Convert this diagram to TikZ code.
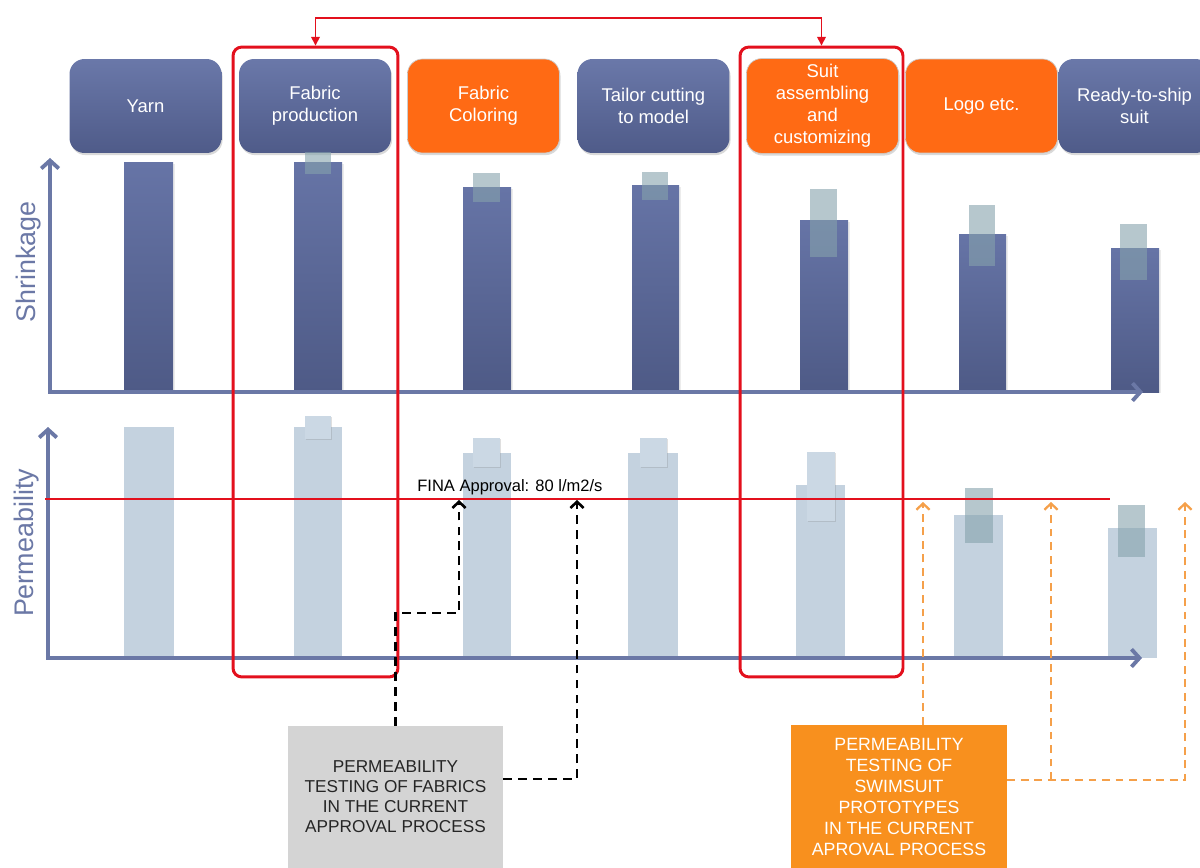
\documentclass[tikz,border=0pt]{standalone}
\usepackage{fontspec}
\setmainfont{Liberation Sans}
\usetikzlibrary{arrows.meta,shadows}
\definecolor{stagetop}{HTML}{6A78A9}
\definecolor{stagebot}{HTML}{4F5B89}
\definecolor{hotorange}{HTML}{FF6A14}
\definecolor{testorange}{HTML}{F8901E}
\definecolor{testgray}{HTML}{D4D4D4}
\definecolor{axisblue}{HTML}{6B78A6}
\definecolor{bartop}{HTML}{6674A6}
\definecolor{barbot}{HTML}{4E5A86}
\definecolor{permblue}{HTML}{C4D2DF}
\definecolor{permmark}{HTML}{CBD8E4}
\definecolor{markgray}{HTML}{86A2AC}
\definecolor{framered}{HTML}{E3101D}
\definecolor{dashorange}{HTML}{F5A04A}
\tikzset{stage/.style={
        rounded corners=0.3cm, minimum width=3.04cm, minimum height=1.88cm,
        top color=stagetop, bottom color=stagebot, text=white, align=center,
        font=\fontsize{10.5}{12.5}\selectfont,
        drop shadow={opacity=0.3,shadow xshift=0.6pt,shadow yshift=-1.2pt}
    },
    hotstage/.style={stage, top color=hotorange, bottom color=hotorange, draw=black!20, thin},
    axis/.style={draw=axisblue, line width=2.2pt,
        arrows={Straight Barb[length=4.5pt,width=10pt]-Straight Barb[length=4.5pt,width=10pt]}},
    axislabel/.style={text=axisblue, font=\fontsize{15.3}{17}\selectfont, rotate=90},
    shrinkbar/.style={top color=bartop, bottom color=barbot,
        drop shadow={opacity=0.15,shadow xshift=1pt,shadow yshift=-0.8pt}},
    permbar/.style={fill=permblue},
    marker/.style={fill=markgray, fill opacity=0.6},
    permmarker/.style={fill=permmark,
        drop shadow={opacity=0.25,shadow xshift=0.6pt,shadow yshift=-0.8pt}},
    frame/.style={draw=framered, line width=1.7pt, rounded corners=5pt, minimum height=12.6cm},
    framelink/.style={draw=framered, line width=0.8pt,
        arrows={Triangle[length=5pt,width=5pt]-Triangle[length=5pt,width=5pt]}},
    finaline/.style={draw=framered, line width=0.7pt},
    testbox/.style={minimum width=4.3cm, minimum height=2.84cm, align=center,
        font=\fontsize{9.8}{11.4}\selectfont},
    testarrow/.style={draw=black, line width=1.5pt, dash pattern=on 5pt off 3.5pt,
        -{Straight Barb[length=3.5pt,width=7.5pt]}},
    protoarrow/.style={draw=dashorange, line width=1.3pt, dash pattern=on 4.5pt off 3.2pt,
        -{Straight Barb[length=3.5pt,width=7.5pt]}}
}

\begin{document}
\begin{tikzpicture}[x=0.02cm,y=-0.02cm]
      \clip (0,0) rectangle (1200,868);
      % stages
      \node[stage] (yarn) at (145.5,106) {Yarn};
      \node[stage] (fabric) at (315,106) {Fabric\\production};
      \node[hotstage] (coloring) at (483.5,106) {Fabric\\Coloring};
      \node[stage] (tailor) at (653.5,106) {Tailor cutting\\to model};
      \node[hotstage] (suit) at (822.5,106) {Suit\\assembling\\and\\customizing};
      \node[hotstage] (logo) at (981.5,106) {Logo etc.};
      \node[stage] (ready) at (1134.5,106) {Ready-to-ship\\suit};
      % shrinkage bars
      \fill[shrinkbar] (124,163) rectangle (173,392);
      \fill[shrinkbar] (294,163) rectangle (342,392);
      \fill[shrinkbar] (463,188) rectangle (511,392);
      \fill[shrinkbar] (632,186) rectangle (679,392);
      \fill[shrinkbar] (800,221) rectangle (848,392);
      \fill[shrinkbar] (959,235) rectangle (1006,392);
      \fill[shrinkbar] (1111,249) rectangle (1159,392);
      \fill[marker] (305,152) rectangle (331,174);
      \fill[marker] (473,173) rectangle (500,202);
      \fill[marker] (642,172) rectangle (668,200);
      \fill[marker] (810,189) rectangle (837,257);
      \fill[marker] (969,205) rectangle (995,266);
      \fill[marker] (1120,224) rectangle (1147,280);
      % permeability bars
      \fill[permbar] (124,427) rectangle (174,658);
      \fill[permbar] (294,427) rectangle (342,658);
      \fill[permbar] (463,453) rectangle (511,658);
      \fill[permbar] (628,453) rectangle (678,658);
      \fill[permbar] (796,485) rectangle (845,658);
      \fill[permbar] (954,515) rectangle (1003,658);
      \fill[permbar] (1108,528) rectangle (1157,658);
      \fill[permmarker] (305,416) rectangle (331,439);
      \fill[permmarker] (473,438) rectangle (500,467);
      \fill[permmarker] (640,438) rectangle (667,467);
      \fill[permmarker] (807,452) rectangle (835,521);
      \fill[marker] (965,488) rectangle (993,543);
      \fill[marker] (1118,505) rectangle (1145,557);
      % axes
      \draw[axis] (50,158) |- (1143,392);
      \draw[axis] (48,427) |- (1142,658);
      \node[axislabel] (shrink) at (29,262) {Shrinkage};
      \node[axislabel] (perm) at (27,543) {Permeability};
      % approval limit
      \draw[finaline] (45,499) -- (1110,499);
      \node[anchor=base west, font=\fontsize{9.4}{11}\selectfont, inner sep=0pt] (fina) at (417,491) {FINA Approval: 80 l/m2/s};
      % frames
      \node[frame, minimum width=3.3cm] (frameL) at (315.5,362) {};
      \node[frame, minimum width=3.26cm] (frameR) at (821.5,362) {};
      \draw[framelink] (frameL.north) |- (frameR.north |- 0,18) -- (frameR.north);
      % testing
      \node[testbox, fill=testgray, text=black!85] (fabrictest) at (395.5,797)
            {PERMEABILITY\\TESTING OF FABRICS\\IN THE CURRENT\\APPROVAL PROCESS};
      \node[testbox, fill=testorange, text=white, minimum width=4.32cm, minimum height=2.88cm,
            font=\fontsize{10.1}{11.9}\selectfont] (prototest) at (899,797)
            {PERMEABILITY\\TESTING OF\\SWIMSUIT\\PROTOTYPES\\IN THE CURRENT\\APROVAL PROCESS};
      \coordinate (f1) at (459,500);
      \coordinate (f2) at (577,500);
      \coordinate (p1) at (923,502);
      \coordinate (p2) at (1051,502);
      \coordinate (p3) at (1185,502);
      \draw[testarrow] (fabrictest.north) |- (f1 |- 0,613) -- (f1);
      \draw[testarrow] (fabrictest.east |- 0,779) -| (f2);
      \draw[protoarrow] (prototest.north -| p1) -- (p1);
      \draw[protoarrow] (prototest.east |- 0,780) -| (p3);
      \draw[protoarrow] (p2 |- 0,780) -- (p2);
\end{tikzpicture}
\end{document}
